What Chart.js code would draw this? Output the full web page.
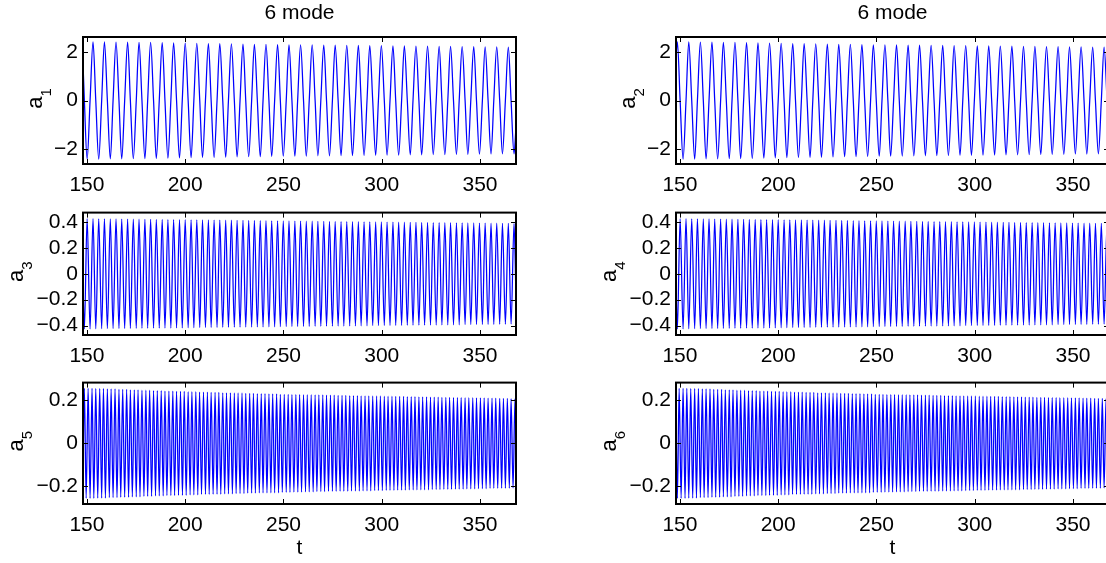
<!DOCTYPE html>
<html>
<head>
<meta charset="utf-8">
<script src="https://cdn.jsdelivr.net/npm/chart.js@4.4.1/dist/chart.umd.min.js"></script>
<style>
html,body{margin:0;padding:0;background:#fff;overflow:hidden;width:1106px;height:563px;position:relative;}
</style>
</head>
<body>
<script>
// ---------------- data ----------------
const titleText = '6 mode';
const xLabel = 't';
const xRange = [148.0, 368.3];
const xTicks = [150, 200, 250, 300, 350];

const yRange1 = [-2.62, 2.62];
const yTicks1 = [-2, 0, 2];
const yRange2 = [-0.473, 0.473];
const yTicks2 = [-0.4, -0.2, 0, 0.2, 0.4];
const yRange3 = [-0.2835, 0.2835];
const yTicks3 = [-0.2, 0, 0.2];

const yNames = ['a', 'a', 'a', 'a', 'a', 'a'];
const ySubs = ['1', '2', '3', '4', '5', '6'];

// sample times for modes 1-4 (extrema / zero crossings)
const tA = [148.0,
148.7,150.1,151.6,153.1,154.5,156.0,157.5,158.9,160.4,161.9,163.3,164.8,166.3,167.7,169.2,170.7,172.1,173.6,175.1,176.5,
178.0,179.5,180.9,182.4,183.9,185.3,186.8,188.3,189.7,191.2,192.7,194.1,195.6,197.1,198.5,200.0,201.5,203.0,204.4,205.9,
207.4,208.8,210.3,211.8,213.2,214.7,216.2,217.6,219.1,220.6,222.0,223.5,225.0,226.4,227.9,229.4,230.8,232.3,233.8,235.2,
236.7,238.2,239.6,241.1,242.6,244.0,245.5,247.0,248.4,249.9,251.4,252.8,254.3,255.8,257.2,258.7,260.2,261.6,263.1,264.6,
266.1,267.5,269.0,270.5,271.9,273.4,274.9,276.3,277.8,279.3,280.7,282.2,283.7,285.1,286.6,288.1,289.5,291.0,292.5,293.9,
295.4,296.9,298.3,299.8,301.3,302.7,304.2,305.7,307.1,308.6,310.1,311.5,313.0,314.5,315.9,317.4,318.9,320.3,321.8,323.3,
324.8,326.2,327.7,329.2,330.6,332.1,333.6,335.0,336.5,338.0,339.4,340.9,342.4,343.8,345.3,346.8,348.2,349.7,351.2,352.6,
354.1,355.6,357.0,358.5,360.0,361.4,362.9,364.4,
365.8,367.3,
368.3];

const a1 = [1.55,
0,-2.42,0,2.42,0,-2.42,0,2.42,0,-2.41,0,2.41,0,-2.41,0,2.41,0,-2.40,0,2.40,
0,-2.40,0,2.40,0,-2.39,0,2.39,0,-2.38,0,2.38,0,-2.37,0,2.37,0,-2.36,0,2.36,
0,-2.35,0,2.35,0,-2.35,0,2.35,0,-2.34,0,2.34,0,-2.33,0,2.33,0,-2.32,0,2.32,
0,-2.32,0,2.32,0,-2.31,0,2.31,0,-2.30,0,2.30,0,-2.30,0,2.30,0,-2.29,0,2.29,
0,-2.28,0,2.28,0,-2.28,0,2.28,0,-2.27,0,2.27,0,-2.27,0,2.27,0,-2.26,0,2.26,
0,-2.26,0,2.26,0,-2.25,0,2.25,0,-2.25,0,2.25,0,-2.24,0,2.24,0,-2.24,0,2.24,
0,-2.23,0,2.23,0,-2.23,0,2.23,0,-2.22,0,2.22,0,-2.22,0,2.22,0,-2.21,0,2.21,
0,-2.21,0,2.21,0,-2.20,0,2.20,
0,-2.20,
-1.08];

const a2 = [1.86,
2.42,0,-2.42,0,2.42,0,-2.42,0,2.41,0,-2.41,0,2.41,0,-2.41,0,2.40,0,-2.40,0,
2.40,0,-2.40,0,2.39,0,-2.39,0,2.38,0,-2.38,0,2.37,0,-2.37,0,2.36,0,-2.36,0,
2.35,0,-2.35,0,2.35,0,-2.35,0,2.34,0,-2.34,0,2.33,0,-2.33,0,2.32,0,-2.32,0,
2.32,0,-2.32,0,2.31,0,-2.31,0,2.30,0,-2.30,0,2.30,0,-2.30,0,2.29,0,-2.29,0,
2.28,0,-2.28,0,2.28,0,-2.28,0,2.27,0,-2.27,0,2.27,0,-2.27,0,2.26,0,-2.26,0,
2.26,0,-2.26,0,2.25,0,-2.25,0,2.25,0,-2.25,0,2.24,0,-2.24,0,2.24,0,-2.24,0,
2.23,0,-2.23,0,2.23,0,-2.23,0,2.22,0,-2.22,0,2.22,0,-2.22,0,2.21,0,-2.21,0,
2.21,0,-2.21,0,2.20,0,-2.20,0,
2.20,0,
-1.92];

const a3 = [-0.08,
-0.426,0.426,-0.426,0.426,-0.425,0.425,-0.425,0.425,-0.424,0.424,-0.424,0.424,-0.423,0.423,-0.423,0.423,-0.422,0.422,-0.422,0.422,
-0.421,0.421,-0.421,0.421,-0.420,0.420,-0.420,0.420,-0.419,0.419,-0.419,0.419,-0.418,0.418,-0.418,0.418,-0.417,0.417,-0.417,0.417,
-0.416,0.416,-0.416,0.416,-0.415,0.415,-0.415,0.415,-0.414,0.414,-0.414,0.414,-0.413,0.413,-0.413,0.413,-0.412,0.412,-0.412,0.412,
-0.411,0.411,-0.411,0.411,-0.410,0.410,-0.410,0.410,-0.409,0.409,-0.409,0.409,-0.408,0.408,-0.408,0.408,-0.407,0.407,-0.407,0.407,
-0.406,0.406,-0.406,0.406,-0.405,0.405,-0.405,0.405,-0.404,0.404,-0.404,0.404,-0.403,0.403,-0.403,0.403,-0.402,0.402,-0.402,0.402,
-0.401,0.401,-0.401,0.401,-0.400,0.400,-0.400,0.400,-0.399,0.399,-0.399,0.399,-0.398,0.398,-0.398,0.398,-0.397,0.397,-0.397,0.397,
-0.396,0.396,-0.396,0.396,-0.395,0.395,-0.395,0.395,-0.394,0.394,-0.394,0.394,-0.393,0.393,-0.393,0.393,-0.392,0.392,-0.392,0.392,
-0.391,0.391,-0.391,0.391,-0.390,0.390,-0.390,0.390,
-0.389,0.389,
-0.20];

const a4 = [-0.08,
-0.426,0.426,-0.426,0.426,-0.425,0.425,-0.425,0.425,-0.424,0.424,-0.424,0.424,-0.423,0.423,-0.423,0.423,-0.422,0.422,-0.422,0.422,
-0.421,0.421,-0.421,0.421,-0.420,0.420,-0.420,0.420,-0.419,0.419,-0.419,0.419,-0.418,0.418,-0.418,0.418,-0.417,0.417,-0.417,0.417,
-0.416,0.416,-0.416,0.416,-0.415,0.415,-0.415,0.415,-0.414,0.414,-0.414,0.414,-0.413,0.413,-0.413,0.413,-0.412,0.412,-0.412,0.412,
-0.411,0.411,-0.411,0.411,-0.410,0.410,-0.410,0.410,-0.409,0.409,-0.409,0.409,-0.408,0.408,-0.408,0.408,-0.407,0.407,-0.407,0.407,
-0.406,0.406,-0.406,0.406,-0.405,0.405,-0.405,0.405,-0.404,0.404,-0.404,0.404,-0.403,0.403,-0.403,0.403,-0.402,0.402,-0.402,0.402,
-0.401,0.401,-0.401,0.401,-0.400,0.400,-0.400,0.400,-0.399,0.399,-0.399,0.399,-0.398,0.398,-0.398,0.398,-0.397,0.397,-0.397,0.397,
-0.396,0.396,-0.396,0.396,-0.395,0.395,-0.395,0.395,-0.394,0.394,-0.394,0.394,-0.393,0.393,-0.393,0.393,-0.392,0.392,-0.392,0.392,
-0.391,0.391,-0.391,0.391,-0.390,0.390,-0.390,0.390,
-0.389,0.389,
-0.20];

// sample times for modes 5-6 (extrema)
const tB = [148.0,
148.7,149.6,150.6,151.6,152.6,153.5,154.5,155.5,156.5,157.5,158.4,159.4,160.4,161.4,162.3,163.3,164.3,165.3,
166.3,167.2,168.2,169.2,170.2,171.2,172.1,173.1,174.1,175.1,176.0,177.0,178.0,179.0,180.0,180.9,181.9,182.9,
183.9,184.9,185.8,186.8,187.8,188.8,189.7,190.7,191.7,192.7,193.7,194.6,195.6,196.6,197.6,198.6,199.5,200.5,
201.5,202.5,203.4,204.4,205.4,206.4,207.3,208.3,209.3,210.3,211.3,212.2,213.2,214.2,215.2,216.2,217.1,218.1,
219.1,220.1,221.0,222.0,223.0,224.0,225.0,225.9,226.9,227.9,228.9,229.9,230.8,231.8,232.8,233.8,234.7,235.7,
236.7,237.7,238.7,239.6,240.6,241.6,242.6,243.6,244.5,245.5,246.5,247.5,248.4,249.4,250.4,251.4,252.4,253.3,
254.3,255.3,256.3,257.3,258.2,259.2,260.2,261.2,262.1,263.1,264.1,265.1,266.1,267.0,268.0,269.0,270.0,270.9,
271.9,272.9,273.9,274.9,275.8,276.8,277.8,278.8,279.8,280.7,281.7,282.7,283.7,284.6,285.6,286.6,287.6,288.6,
289.5,290.5,291.5,292.5,293.4,294.4,295.4,296.4,297.4,298.3,299.3,300.3,301.3,302.3,303.2,304.2,305.2,306.2,
307.1,308.1,309.1,310.1,311.1,312.0,313.0,314.0,315.0,316.0,316.9,317.9,318.9,319.9,320.8,321.8,322.8,323.8,
324.8,325.7,326.7,327.7,328.7,329.6,330.6,331.6,332.6,333.6,334.5,335.5,336.5,337.5,338.5,339.4,340.4,341.4,
342.4,343.3,344.3,345.3,346.3,347.3,348.2,349.2,350.2,351.2,352.1,353.1,354.1,355.1,356.1,357.0,358.0,359.0,
360.0,361.0,361.9,362.9,363.9,364.9,
365.8,366.8,367.8,
368.3];

const a5 = [-0.13,
0.257,-0.257,0.257,-0.257,0.257,-0.257,0.256,-0.256,0.256,-0.256,0.256,-0.256,0.254,-0.254,0.254,-0.254,0.254,-0.254,
0.252,-0.252,0.252,-0.252,0.252,-0.252,0.250,-0.250,0.250,-0.250,0.250,-0.250,0.248,-0.248,0.248,-0.248,0.248,-0.248,
0.246,-0.246,0.246,-0.246,0.246,-0.246,0.244,-0.244,0.244,-0.244,0.244,-0.244,0.243,-0.243,0.243,-0.243,0.243,-0.243,
0.241,-0.241,0.241,-0.241,0.241,-0.241,0.239,-0.239,0.239,-0.239,0.239,-0.239,0.238,-0.238,0.238,-0.238,0.238,-0.238,
0.236,-0.236,0.236,-0.236,0.236,-0.236,0.235,-0.235,0.235,-0.235,0.235,-0.235,0.233,-0.233,0.233,-0.233,0.233,-0.233,
0.232,-0.232,0.232,-0.232,0.232,-0.232,0.231,-0.231,0.231,-0.231,0.231,-0.231,0.229,-0.229,0.229,-0.229,0.229,-0.229,
0.228,-0.228,0.228,-0.228,0.228,-0.228,0.227,-0.227,0.227,-0.227,0.227,-0.227,0.226,-0.226,0.226,-0.226,0.226,-0.226,
0.225,-0.225,0.225,-0.225,0.225,-0.225,0.224,-0.224,0.224,-0.224,0.224,-0.224,0.223,-0.223,0.223,-0.223,0.223,-0.223,
0.222,-0.222,0.222,-0.222,0.222,-0.222,0.221,-0.221,0.221,-0.221,0.221,-0.221,0.220,-0.220,0.220,-0.220,0.220,-0.220,
0.219,-0.219,0.219,-0.219,0.219,-0.219,0.218,-0.218,0.218,-0.218,0.218,-0.218,0.217,-0.217,0.217,-0.217,0.217,-0.217,
0.216,-0.216,0.216,-0.216,0.216,-0.216,0.215,-0.215,0.215,-0.215,0.215,-0.215,0.214,-0.214,0.214,-0.214,0.214,-0.214,
0.213,-0.213,0.213,-0.213,0.213,-0.213,0.212,-0.212,0.212,-0.212,0.212,-0.212,0.211,-0.211,0.211,-0.211,0.211,-0.211,
0.210,-0.210,0.210,-0.210,0.210,-0.210,
0.209,-0.209,0.209,
-0.01];

const a6 = [0.13,
-0.257,0.257,-0.257,0.257,-0.257,0.257,-0.256,0.256,-0.256,0.256,-0.256,0.256,-0.254,0.254,-0.254,0.254,-0.254,0.254,
-0.252,0.252,-0.252,0.252,-0.252,0.252,-0.250,0.250,-0.250,0.250,-0.250,0.250,-0.248,0.248,-0.248,0.248,-0.248,0.248,
-0.246,0.246,-0.246,0.246,-0.246,0.246,-0.244,0.244,-0.244,0.244,-0.244,0.244,-0.243,0.243,-0.243,0.243,-0.243,0.243,
-0.241,0.241,-0.241,0.241,-0.241,0.241,-0.239,0.239,-0.239,0.239,-0.239,0.239,-0.238,0.238,-0.238,0.238,-0.238,0.238,
-0.236,0.236,-0.236,0.236,-0.236,0.236,-0.235,0.235,-0.235,0.235,-0.235,0.235,-0.233,0.233,-0.233,0.233,-0.233,0.233,
-0.232,0.232,-0.232,0.232,-0.232,0.232,-0.231,0.231,-0.231,0.231,-0.231,0.231,-0.229,0.229,-0.229,0.229,-0.229,0.229,
-0.228,0.228,-0.228,0.228,-0.228,0.228,-0.227,0.227,-0.227,0.227,-0.227,0.227,-0.226,0.226,-0.226,0.226,-0.226,0.226,
-0.225,0.225,-0.225,0.225,-0.225,0.225,-0.224,0.224,-0.224,0.224,-0.224,0.224,-0.223,0.223,-0.223,0.223,-0.223,0.223,
-0.222,0.222,-0.222,0.222,-0.222,0.222,-0.221,0.221,-0.221,0.221,-0.221,0.221,-0.220,0.220,-0.220,0.220,-0.220,0.220,
-0.219,0.219,-0.219,0.219,-0.219,0.219,-0.218,0.218,-0.218,0.218,-0.218,0.218,-0.217,0.217,-0.217,0.217,-0.217,0.217,
-0.216,0.216,-0.216,0.216,-0.216,0.216,-0.215,0.215,-0.215,0.215,-0.215,0.215,-0.214,0.214,-0.214,0.214,-0.214,0.214,
-0.213,0.213,-0.213,0.213,-0.213,0.213,-0.212,0.212,-0.212,0.212,-0.212,0.212,-0.211,0.211,-0.211,0.211,-0.211,0.211,
-0.210,0.210,-0.210,0.210,-0.210,0.210,
-0.209,0.209,-0.209,
0.01];

// ---------------- layout / style ----------------
const FONT = '"Liberation Sans", Arial, Helvetica, sans-serif';
const FS = 21, LABFS = 22, SUBFS = 15;
const LINE = '#0000ff';
const COLS = [
  {left: 0,   width: 540, areaL: 83,  areaR: 516},
  {left: 560, width: 560, areaL: 676, areaR: 1109}
];
const ROWS = [
  {top: 0,   height: 195, areaT: 37,  areaB: 164, labelGap: 41},
  {top: 195, height: 170, areaT: 206, areaB: 335, labelGap: 60},
  {top: 365, height: 198, areaT: 376, areaB: 504, labelGap: 60}
];

const panels = [
  {row: 0, col: 0, t: tA, y: a1, yr: yRange1, yt: yTicks1, k: 0},
  {row: 0, col: 1, t: tA, y: a2, yr: yRange1, yt: yTicks1, k: 1},
  {row: 1, col: 0, t: tA, y: a3, yr: yRange2, yt: yTicks2, k: 2},
  {row: 1, col: 1, t: tA, y: a4, yr: yRange2, yt: yTicks2, k: 3},
  {row: 2, col: 0, t: tB, y: a5, yr: yRange3, yt: yTicks3, k: 4},
  {row: 2, col: 1, t: tB, y: a6, yr: yRange3, yt: yTicks3, k: 5}
];

function fmt(v) {
  return v < 0 ? '\u2212' + String(Math.abs(v)) : String(v);
}

function makePanel(p) {
  const c = COLS[p.col], r = ROWS[p.row];
  const div = document.createElement('div');
  div.style.cssText = 'position:absolute;left:' + c.left + 'px;top:' + r.top + 'px;width:' + c.width + 'px;height:' + r.height + 'px;';
  const cv = document.createElement('canvas');
  div.appendChild(cv);
  document.body.appendChild(div);
  const Wy = c.areaL - c.left;
  const Hx = r.top + r.height - r.areaB;
  const TL = 5;

  const frame = {
    id: 'frame' + p.k,
    afterDatasetsDraw(chart) {
      const ctx = chart.ctx, a = chart.chartArea;
      const xs = chart.scales.x, ys = chart.scales.y;
      ctx.save();
      ctx.strokeStyle = '#000';
      ctx.lineWidth = 1;
      ctx.beginPath();
      xTicks.forEach(v => {
        const px = Math.round(xs.getPixelForValue(v)) + 0.5;
        ctx.moveTo(px, a.bottom); ctx.lineTo(px, a.bottom - TL);
        ctx.moveTo(px, a.top); ctx.lineTo(px, a.top + TL);
      });
      p.yt.forEach(v => {
        const py = Math.round(ys.getPixelForValue(v)) + 0.5;
        ctx.moveTo(a.left, py); ctx.lineTo(a.left + TL, py);
        ctx.moveTo(a.right, py); ctx.lineTo(a.right - TL, py);
      });
      ctx.stroke();
      ctx.lineWidth = 2;
      ctx.strokeRect(a.left, a.top, a.right - a.left, a.bottom - a.top);
      ctx.restore();
    },
    afterDraw(chart) {
      const ctx = chart.ctx, a = chart.chartArea;
      ctx.save();
      ctx.fillStyle = '#000';
      // y label with subscript
      const bx = a.left - r.labelGap;
      const cy = (a.top + a.bottom) / 2 - 2;
      ctx.translate(bx, cy);
      ctx.rotate(-Math.PI / 2);
      ctx.textBaseline = 'alphabetic';
      ctx.textAlign = 'left';
      ctx.font = LABFS + 'px ' + FONT;
      const wa = ctx.measureText(yNames[p.k]).width;
      ctx.font = SUBFS + 'px ' + FONT;
      const ws = ctx.measureText(ySubs[p.k]).width;
      const x0 = -(wa + ws) / 2;
      ctx.font = LABFS + 'px ' + FONT;
      ctx.fillText(yNames[p.k], x0, 0);
      ctx.font = SUBFS + 'px ' + FONT;
      ctx.fillText(ySubs[p.k], x0 + wa, 9);
      ctx.restore();
      if (p.row === 0) {
        ctx.save();
        ctx.fillStyle = '#000';
        ctx.font = FS + 'px ' + FONT;
        ctx.textAlign = 'center';
        ctx.textBaseline = 'middle';
        ctx.fillText(titleText, (a.left + a.right) / 2, 13 - r.top);
        ctx.restore();
      }
    }
  };

  new Chart(cv, {
    type: 'line',
    data: {
      datasets: [{
        data: p.t.map((t, i) => ({x: t, y: p.y[i]})),
        borderColor: LINE,
        borderWidth: 1.25,
        pointRadius: 0,
        fill: false,
        cubicInterpolationMode: 'monotone'
      }]
    },
    options: {
      responsive: true,
      maintainAspectRatio: false,
      animation: false,
      events: [],
      layout: {padding: {left: 0, top: r.areaT - r.top, right: c.left + c.width - c.areaR, bottom: 0}},
      plugins: {legend: {display: false}, tooltip: {enabled: false}, title: {display: false}},
      scales: {
        x: {
          type: 'linear', min: xRange[0], max: xRange[1],
          afterBuildTicks: s => { s.ticks = xTicks.map(v => ({value: v})); },
          afterFit: s => { s.height = Hx; },
          grid: {display: false, drawTicks: false},
          border: {display: false},
          ticks: {autoSkip: false, maxRotation: 0, minRotation: 0, padding: 9, color: '#000',
                  font: {family: FONT, size: FS}, callback: v => String(v)},
          title: p.row === 2 ? {display: true, text: xLabel, color: '#000', font: {family: FONT, size: FS},
                  padding: {top: 0, bottom: 2}} : {display: false}
        },
        y: {
          type: 'linear', min: p.yr[0], max: p.yr[1],
          afterBuildTicks: s => { s.ticks = p.yt.map(v => ({value: v})); },
          afterFit: s => { s.width = Wy; },
          grid: {display: false, drawTicks: false},
          border: {display: false},
          ticks: {autoSkip: false, padding: 5, color: '#000', font: {family: FONT, size: FS}, callback: v => fmt(v)}
        }
      }
    },
    plugins: [frame]
  });
}

panels.forEach(makePanel);
</script>
</body>
</html>
